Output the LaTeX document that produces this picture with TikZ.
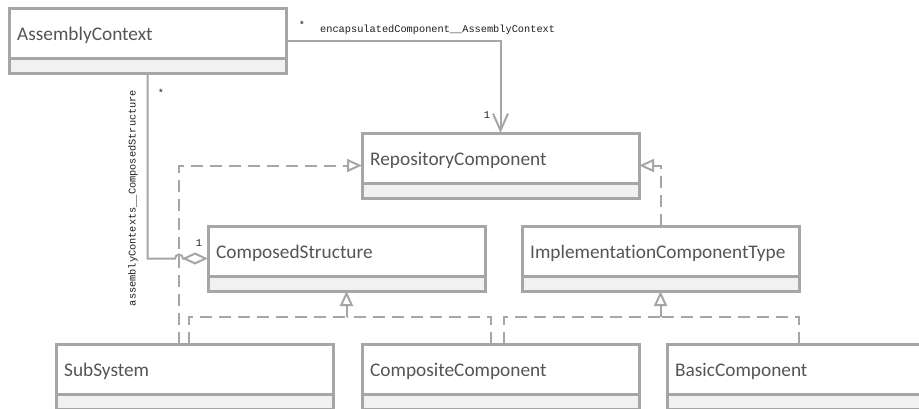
\documentclass[tikz,border=0pt]{standalone}
\usepackage{fontspec}
\setmainfont{Carlito}[Ligatures=NoCommon]
\newfontfamily\labelfont{Liberation Mono}
\usetikzlibrary{arrows.meta,calc}

\definecolor{edge}{RGB}{166,166,166}
\definecolor{comp}{RGB}{241,241,241}
\definecolor{ink}{RGB}{85,85,85}
\definecolor{lbl}{RGB}{30,30,30}

\tikzset{
  classframe/.style={draw=edge, line width=3pt, fill=white, inner sep=0pt, outer sep=0pt,
    minimum width=277pt, minimum height=65pt, anchor=north west},
  classrule/.style={draw=edge, line width=3pt, line join=round},
  classname/.style={anchor=west, inner sep=0pt, text=ink,
    font=\fontsize{19.3}{22}\selectfont, text height=12pt, text depth=0pt},
  assoc/.style={draw=edge, line width=2pt},
  realize/.style={draw=edge, line width=2pt, dash pattern=on 12pt off 7pt},
  hollow/.style={-{Triangle[open, length=15pt, width=13pt, fill=white]}},
  navarrow/.style={-{Straight Barb[length=17pt, width=15pt]}},
  shared/.style={-{Diamond[open, length=26pt, width=12pt, fill=white]}},
  rolelabel/.style={inner sep=0pt, text=lbl, font=\labelfont\fontsize{10.3}{12}\selectfont},
}

% class box with a name compartment and an empty lower compartment
\newcommand\umlclass[4]{%
  \node[classframe] (#1) at (#2,-#3) {};
  \fill[comp] ($(#1.south west)+(0,15)$) rectangle (#1.south east);
  \draw[classrule] ($(#1.south west)+(0,15)$) -- ($(#1.south east)+(0,15)$);
  \draw[classrule] (#1.south west) rectangle (#1.north east);
  \node[classname] (#1-name) at ($(#1.north west)+(8,-26)$) {#4};
}

\begin{document}
\begin{tikzpicture}[x=1pt, y=1pt]
  \useasboundingbox (0,0) rectangle (919,-408);
  \clip (0,0) rectangle (919,-408);
  \fill[white] (0,0) rectangle (919,-408);

  % classes
  \umlclass{ac}{9}{8}{AssemblyContext}
  \umlclass{rc}{362}{133}{RepositoryComponent}
  \umlclass{cs}{208}{226}{ComposedStructure}
  \umlclass{ict}{522}{226}{ImplementationComponentType}
  \umlclass{ss}{56}{344}{SubSystem}
  \umlclass{cc}{362}{344}{CompositeComponent}
  \umlclass{bc}{667}{344}{BasicComponent}

  % attachment points of the dashed realization lines
  \coordinate (ssA) at ($(ss.north west)+(123,0)$);
  \coordinate (ssB) at ($(ss.north west)+(133,0)$);
  \coordinate (ccA) at ($(cc.north west)+(129,0)$);
  \coordinate (ccB) at ($(cc.north west)+(142,0)$);
  \coordinate (bcA) at ($(bc.north west)+(132,0)$);
  \coordinate (joinA) at ($(cs.south)+(0,-26)$);
  \coordinate (joinB) at ($(ict.south)+(0,-26)$);

  % realizations
  \draw[realize, hollow] (ssA) |- (rc.west);
  \draw[realize] (ssB) |- (joinA);
  \draw[realize] (ccA) |- (joinA);
  \draw[realize, hollow] (joinA) -- (cs.south);
  \draw[realize] (ccB) |- (joinB);
  \draw[realize] (bcA) |- (joinB);
  \draw[realize, hollow] (joinB) -- (ict.south);
  \draw[realize, hollow] (ict.north) |- (rc.east);

  % associations
  \draw[assoc, navarrow] (ac.east) -| (rc.north);
  \coordinate (hop) at (ssA |- cs.west);
  \draw[assoc, shared] (ac.south) |- ($(hop)+(-4,0)$)
    arc[start angle=180, end angle=0, radius=4] -- (cs.west);

  % role names and multiplicities
  \node[rolelabel, anchor=base] (m1) at (302,-28) {*};
  \node[rolelabel, anchor=base west] (r1) at (320,-32) {encapsulatedComponent\_\_AssemblyContext};
  \node[rolelabel, anchor=base] (m2) at (487,-118) {1};
  \node[rolelabel, anchor=base] (m3) at (161,-96) {*};
  \node[rolelabel, anchor=base] (m4) at (199,-246) {1};
  \node[rolelabel, rotate=90] (r2) at (133,-198) {assemblyContexts\_\_ComposedStructure};
\end{tikzpicture}
\end{document}
